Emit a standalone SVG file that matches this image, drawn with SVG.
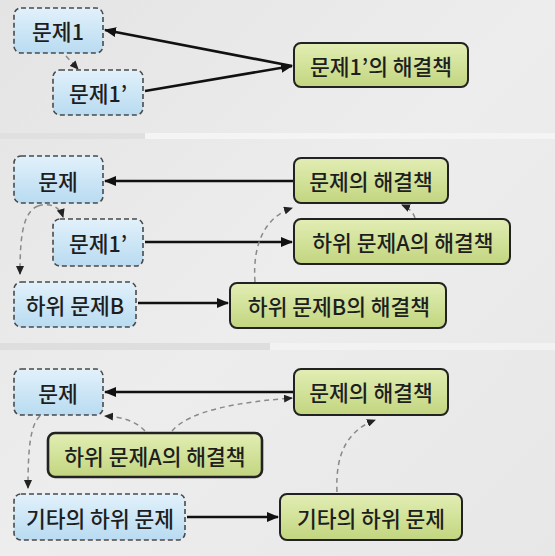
<svg xmlns="http://www.w3.org/2000/svg" width="555" height="556" viewBox="0 0 555 556">
<defs>
<linearGradient id="bg" x1="0" y1="0" x2="1" y2="1">
<stop offset="0" stop-color="#e4e4e4"/>
<stop offset="0.5" stop-color="#ededed"/>
<stop offset="1" stop-color="#e7e7e7"/>
</linearGradient>
<linearGradient id="blue" x1="0" y1="0" x2="0" y2="1">
<stop offset="0" stop-color="#e2f1fb"/>
<stop offset="0.5" stop-color="#cde6f6"/>
<stop offset="1" stop-color="#b9dbf1"/>
</linearGradient>
<linearGradient id="green" x1="0" y1="0" x2="0" y2="1">
<stop offset="0" stop-color="#e2edb4"/>
<stop offset="0.5" stop-color="#d2e29a"/>
<stop offset="1" stop-color="#c2d57f"/>
</linearGradient>
<marker id="ah" markerUnits="userSpaceOnUse" markerWidth="12" markerHeight="10" refX="11" refY="5" orient="auto">
<path d="M0,0 L12,5 L0,10 z" fill="#111"/>
</marker>
<marker id="dh" markerUnits="userSpaceOnUse" markerWidth="9" markerHeight="8" refX="8" refY="4" orient="auto">
<path d="M0,0 L9,4 L0,8 z" fill="#222"/>
</marker>
</defs>
<style>
.bn rect{fill:url(#blue);stroke:#4a4a4a;stroke-width:1.6;stroke-dasharray:5 3}
.gn rect{fill:url(#green);stroke:#222;stroke-width:2}
text{font-family:"Noto Sans CJK KR","Noto Sans",sans-serif;font-size:21.5px;font-weight:500;fill:#1e1e1e;text-anchor:middle;dominant-baseline:central}
.solid{fill:none;stroke:#111;stroke-width:2.6;marker-end:url(#ah)}
.dash{fill:none;stroke:#8a8a8a;stroke-width:1.5;stroke-dasharray:5 4;marker-end:url(#dh)}
</style>
<rect width="555" height="556" fill="url(#bg)"/>
<rect x="0" y="133" width="555" height="6" fill="#f4f4f4"/>
<rect x="0" y="133" width="145" height="6" fill="#e0e0e0"/>
<rect x="0" y="343" width="555" height="7" fill="#f2f2f2"/>
<rect x="0" y="343" width="270" height="7" fill="#dedede"/>

<g id="connectors">
<path class="solid" d="M292,66 L105,30"/>
<path class="solid" d="M145,91 L292,66"/>
<path class="dash" d="M66,56 L78,69" stroke="#aaa"/>
<path class="solid" d="M294,181 L105,181"/>
<path class="solid" d="M145,242 L292,242"/>
<path class="solid" d="M138,303 L228,303"/>
<path class="dash" d="M38,206 C22,212 20,240 20,274"/>
<path class="dash" d="M38,206 C50,202 60,207 63,217"/>
<path class="dash" d="M255,282 C252,240 268,216 292,208"/>
<path class="dash" d="M415,218 C413,212 409,208 402,205"/>
<path class="solid" d="M294,392 L105,392"/>
<path class="solid" d="M187,517 L278,517"/>
<path class="dash" d="M145,431 C135,420 120,417 105,416"/>
<path class="dash" d="M172,431 C190,410 240,402 292,398"/>
<path class="dash" d="M40,416 C30,425 28,450 28,488"/>
<path class="dash" d="M337,492 C335,450 350,430 375,420"/>
</g>

<g id="n1" class="bn"><rect x="14" y="8" width="89" height="45" rx="7"/><text x="58" y="30">문제1</text></g>
<g id="n2" class="bn"><rect x="53" y="70" width="90" height="45" rx="7"/><text x="98" y="92">문제1’</text></g>
<g id="n3" class="gn"><rect x="294" y="43" width="174" height="44" rx="7"/><text x="381" y="65">문제1’의 해결책</text></g>

<g id="n4" class="bn"><rect x="14" y="156" width="89" height="47" rx="7"/><text x="58" y="180">문제</text></g>
<g id="n5" class="bn"><rect x="53" y="219" width="90" height="47" rx="7"/><text x="98" y="242">문제1’</text></g>
<g id="n6" class="bn"><rect x="14" y="282" width="122" height="45" rx="7"/><text x="75" y="304">하위 문제B</text></g>
<g id="n7" class="gn"><rect x="294" y="158" width="154" height="45" rx="7"/><text x="371" y="180">문제의 해결책</text></g>
<g id="n8" class="gn"><rect x="294" y="219" width="216" height="45" rx="7"/><text x="403" y="241">하위 문제A의 해결책</text></g>
<g id="n9" class="gn"><rect x="230" y="283" width="216" height="45" rx="7"/><text x="339" y="305">하위 문제B의 해결책</text></g>

<g id="n10" class="bn"><rect x="14" y="369" width="89" height="46" rx="7"/><text x="58" y="392">문제</text></g>
<g id="n11" class="gn"><rect x="294" y="369" width="154" height="46" rx="7"/><text x="371" y="391">문제의 해결책</text></g>
<g id="n12" class="gn"><rect x="48" y="433" width="214" height="44" rx="7" style="stroke-width:2.6"/><text x="155" y="455">하위 문제A의 해결책</text></g>
<g id="n13" class="bn"><rect x="14" y="494" width="171" height="46" rx="7"/><text x="100" y="517">기타의 하위 문제</text></g>
<g id="n14" class="gn"><rect x="280" y="494" width="182" height="46" rx="7"/><text x="371" y="517">기타의 하위 문제</text></g>
</svg>
